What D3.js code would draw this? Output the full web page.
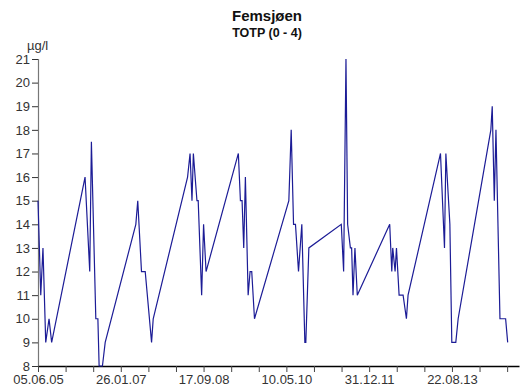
<!DOCTYPE html>
<html>
<head>
<meta charset="utf-8">
<script src="https://cdn.jsdelivr.net/npm/d3@7/dist/d3.min.js"></script>
<style>
  html, body { margin: 0; padding: 0; background: #fff; }
  svg { display: block; font-family: "Liberation Sans", Arial, sans-serif; }
</style>
</head>
<body>
<svg id="chart" width="520" height="392"></svg>
<script>
// Femsjøen, total phosphorus (0 - 4 m), µg/l
const sampleDates = [
  "2005-06-05","2005-06-25","2005-07-11","2005-07-31","2005-08-24","2005-09-12",
  "2006-05-12","2006-06-15","2006-06-27","2006-07-29","2006-08-13","2006-08-22","2006-09-15","2006-10-05",
  "2007-05-15","2007-05-29","2007-06-25","2007-07-22","2007-09-06","2007-09-18",
  "2008-05-24","2008-06-11","2008-06-25","2008-07-05","2008-07-31","2008-08-09","2008-09-03","2008-09-17","2008-10-05",
  "2009-05-27","2009-06-11","2009-06-23","2009-07-05","2009-07-17","2009-08-06","2009-08-20","2009-09-01","2009-09-21",
  "2010-05-28","2010-06-14","2010-07-01","2010-07-15","2010-08-06","2010-08-30","2010-09-21","2010-09-28","2010-10-20",
  "2011-06-12","2011-06-29","2011-07-16","2011-07-28","2011-08-17","2011-08-26","2011-09-05","2011-09-19","2011-10-06",
  "2012-05-28","2012-06-12","2012-06-19","2012-07-06","2012-07-16","2012-08-04","2012-09-02","2012-09-26","2012-10-08",
  "2013-05-31","2013-06-29","2013-07-09","2013-08-07","2013-08-21","2013-09-19","2013-10-06",
  "2014-05-31","2014-06-10","2014-06-25","2014-07-07","2014-08-05","2014-09-15","2014-09-30"
];
const totp = [
  15, 11, 13, 9, 10, 9,
  16, 12, 17.5, 10, 10, 8, 8, 9,
  14, 15, 12, 12, 9, 10,
  16, 17, 15, 17, 15, 15, 11, 14, 12,
  17, 15, 15, 13, 16, 11, 12, 12, 10,
  15, 18, 14, 14, 12, 14, 9, 9, 13,
  14, 12, 21, 14, 13, 13, 11, 13, 11,
  14, 12, 13, 12, 13, 11, 11, 10, 11,
  17, 13, 17, 14, 9, 9, 10,
  18, 19, 15, 18, 10, 10, 9
];
const yTicks = [8, 9, 10, 11, 12, 13, 14, 15, 16, 17, 18, 19, 20, 21];
const xTickLabels = ["05.06.05", "26.01.07", "17.09.08", "10.05.10", "31.12.11", "22.08.13"];

const parse = d3.timeParse("%Y-%m-%d");
const fmt = d3.timeFormat("%d.%m.%y");
const data = sampleDates.map((d, i) => ({ date: parse(d), value: totp[i] }));

const svg = d3.select("#chart");
const plotLeft = 38, plotRight = 519, plotTop = 59, plotBottom = 366;

const start = parse("2005-06-05");
const end = parse("2014-12-21");
const x = d3.scaleTime().domain([start, end]).range([plotLeft, plotRight]);
const y = d3.scaleLinear().domain([8, 21]).range([plotBottom, plotTop]);

// Ticks every 200 days from the first sampling date; every third one carries a label
const xTicks = d3.range(0, 18).map(k => d3.timeDay.offset(start, k * 200));

// Titles
svg.append("text").attr("x", 267).attr("y", 21).attr("text-anchor", "middle")
  .attr("font-size", 15).attr("font-weight", "bold").attr("fill", "#111").text("Femsjøen");
svg.append("text").attr("x", 267).attr("y", 37).attr("text-anchor", "middle")
  .attr("font-size", 12.5).attr("font-weight", "bold").attr("fill", "#111").text("TOTP (0 - 4)");
svg.append("text").attr("x", 27).attr("y", 50)
  .attr("font-size", 13).attr("fill", "#333").text("µg/l");

// Y axis
const yAxis = svg.append("g").attr("transform", `translate(${plotLeft},0)`)
  .call(d3.axisLeft(y).tickValues(yTicks).tickSize(6).tickPadding(2).tickFormat(d3.format("d")));
yAxis.select(".domain").attr("stroke", "#777").attr("stroke-width", 1.2);
yAxis.selectAll(".tick line").attr("stroke", "#333");
yAxis.selectAll("text").attr("font-size", 13).attr("fill", "#333")
  .attr("font-family", "Liberation Sans, Arial, sans-serif");

// X axis
const xAxis = svg.append("g").attr("transform", `translate(0,${plotBottom})`)
  .call(d3.axisBottom(x).tickValues(xTicks).tickSizeOuter(0).tickSizeInner(6).tickPadding(3)
    .tickFormat((d, i) => {
      const s = fmt(d);
      return (i % 3 === 0 && xTickLabels.includes(s)) ? s : "";
    }));
xAxis.select(".domain").attr("stroke", "#000").attr("stroke-width", 1.3);
xAxis.selectAll(".tick line").attr("stroke", "#444");
xAxis.selectAll("text").attr("font-size", 13).attr("fill", "#333")
  .attr("font-family", "Liberation Sans, Arial, sans-serif");

// Series line
const line = d3.line().x(d => x(d.date)).y(d => y(d.value));
svg.append("path").datum(data)
  .attr("fill", "none").attr("stroke", "#1c1c96").attr("stroke-width", 1.2)
  .attr("stroke-linejoin", "miter").attr("d", line);
</script>
</body>
</html>
